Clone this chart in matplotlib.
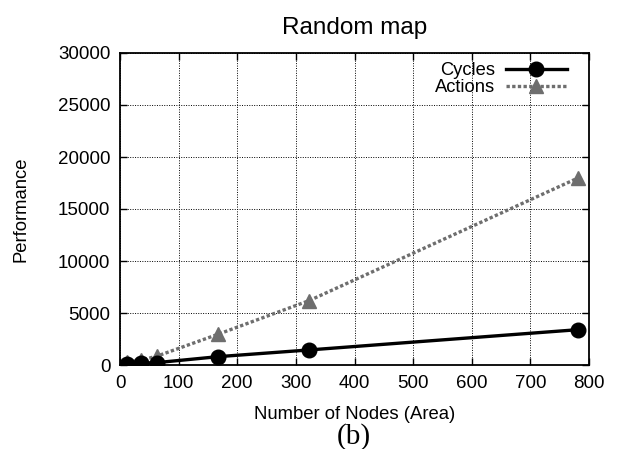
import numpy as np
import matplotlib
matplotlib.use("Agg")
from matplotlib import pyplot as plt

# map size (number of nodes) and measured performance
nodes = [12, 35, 63, 167, 323, 782]
cycles = [100, 170, 230, 800, 1450, 3400]
actions = [250, 450, 850, 2950, 6200, 18000]

x_ticks = [0, 100, 200, 300, 400, 500, 600, 700, 800]
y_ticks = [0, 5000, 10000, 15000, 20000, 25000, 30000]

plt.rcParams['font.family'] = ['Liberation Sans', 'DejaVu Sans']

fig = plt.figure(figsize=(6.21, 4.49), dpi=100)
ax = fig.add_axes([120 / 621, 84 / 449, 469 / 621, 312 / 449])

ax.plot(nodes, cycles, color='black', linewidth=2.4, marker='o',
        markersize=10.5, label='Cycles', zorder=4)
ax.plot(nodes, actions, color='#6e6e6e', linewidth=2.4,
        linestyle=(0, (1, 0.7)), marker='^', markersize=10.5,
        label='Actions', zorder=3)

ax.set_xlim(0, 800)
ax.set_ylim(0, 30000)
ax.set_xticks(x_ticks)
ax.set_yticks(y_ticks)
ax.tick_params(direction='in', top=True, right=True, length=5,
               width=1, labelsize=13.5, pad=7)

# dotted grid
ax.grid(True, linestyle=(0, (1, 1.5)), color='black', linewidth=0.7)
ax.set_axisbelow(True)
for sp in ax.spines.values():
    sp.set_linewidth(1.3)

ax.set_title('Random map', fontsize=17.5, pad=14)
ax.set_xlabel('Number of Nodes (Area)', fontsize=13.3, labelpad=10)
ax.set_ylabel('Performance', fontsize=13.3, labelpad=20)

ax.legend(loc='upper right', bbox_to_anchor=(0.972, 1.0), frameon=False,
          markerfirst=False, fontsize=13.2, handlelength=3.3,
          handletextpad=0.6, labelspacing=0.0, borderaxespad=0.1)

fig.text(354 / 621, 1 - 437 / 449, '(b)', fontsize=21,
         family=['Liberation Serif', 'DejaVu Serif'],
         ha='center', va='center')

fig.savefig('out.png', dpi=100)
